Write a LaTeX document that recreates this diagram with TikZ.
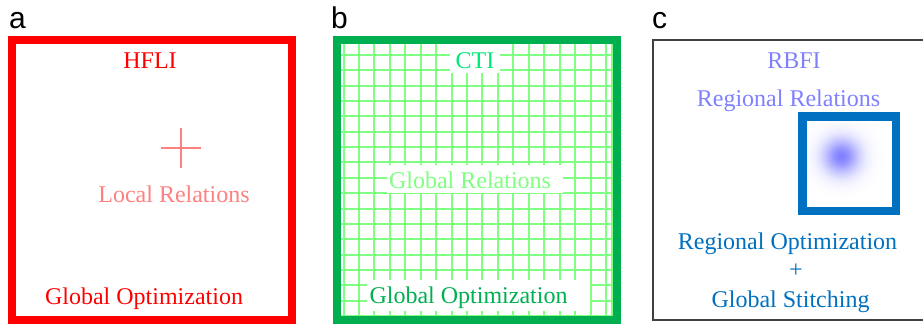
\documentclass[tikz,border=0pt]{standalone}
\usepackage{fontspec}
\setmainfont{Liberation Serif}
\newfontfamily\panelfont{Liberation Sans}
\definecolor{hfred}{RGB}{255,0,0}
\definecolor{hflight}{RGB}{255,128,128}
\definecolor{ctidark}{RGB}{0,176,80}
\definecolor{ctigrid}{RGB}{128,255,128}
\definecolor{ctititle}{RGB}{0,232,120}
\definecolor{rbframe}{RGB}{64,64,64}
\definecolor{rblight}{RGB}{128,128,255}
\definecolor{rbblue}{RGB}{0,112,192}
\begin{document}
\begin{tikzpicture}[x=1pt,y=-1pt,
  txt/.style={inner sep=0pt,anchor=base,font=\fontsize{24}{28}\selectfont},
  panel/.style={inner sep=0pt,anchor=base west,font=\panelfont\fontsize{30}{34}\selectfont},
  gridline/.style={ctigrid,line width=2pt},
  whitebox/.style={fill=white,draw=none}]
\useasboundingbox (0,0) rectangle (923,324);
\fill[white] (0,0) rectangle (923,324);

% ---------- panel a : HFLI ----------
\node[panel] (la) at (9,28) {a};
\draw[hfred,line width=8pt] (12,40) rectangle (292,320);
\node[txt,text=hfred] (hfli) at (150,68) {HFLI};
\coordinate (crossc) at (181,148);
\draw[hflight,line width=2.6pt] ([xshift=-20pt]crossc) -- ([xshift=20pt]crossc);
\draw[hflight,line width=2.6pt] ([yshift=-20pt]crossc) -- ([yshift=20pt]crossc);
\node[txt,text=hflight] (locrel) at (174,202) {Local Relations};
\node[txt,text=hfred] (globopta) at (144,304) {Global Optimization};

% ---------- panel b : CTI ----------
\node[panel] (lb) at (331,28) {b};
\foreach \k in {0,...,17}
  \draw[gridline] ({343.5+15.44*\k},44) -- ({343.5+15.44*\k},316);
\draw[gridline] (611.7,44) -- (611.7,316);
\foreach \k in {0,...,17}
  \draw[gridline] (341,{55+15.35*\k}) -- (613,{55+15.35*\k});
\fill[whitebox] (450,44) rectangle (500,73);
\fill[whitebox] (387,165) rectangle (563,193);
\fill[whitebox] (367,280) rectangle (590,311);
\draw[ctidark,line width=8pt] (337,40) rectangle (616.7,320);
\node[txt,text=ctititle] (cti) at (475,68) {CTI};
\node[txt,text=ctigrid] (globrel) at (470,188) {Global Relations};
\node[txt,text=ctidark] (globoptb) at (468.5,303.5) {Global Optimization};

% ---------- panel c : RBFI ----------
\node[panel] (lc) at (652,28) {c};
\draw[rbframe,line width=1.3pt] (653,40) rectangle (926,320);
\node[txt,text=rblight] (rbfi) at (794,68) {RBFI};
\node[txt,text=rblight] (regrel) at (788.5,106.5) {Regional Relations};
% soft blob inside the regional window
\foreach \r in {42,41,...,1}{
  \pgfmathsetmacro\p{100*exp(-(\r*\r)/350)}
  \fill[rblight!\p!white] (841.5,156.5) circle (\r pt);
}
\fill[white] (790,108) rectangle (802,220);
\fill[white] (790,108) rectangle (905,116);
\draw[rbblue,line width=8.3pt] (802.5,116.5) rectangle (896,211);
\node[txt,text=rbblue] (regopt) at (787.5,249.5) {Regional Optimization};
\node[txt,text=rbblue] (plus) at (796,277) {+};
\node[txt,text=rbblue] (stitch) at (790.5,307) {Global Stitching};
\end{tikzpicture}
\end{document}
